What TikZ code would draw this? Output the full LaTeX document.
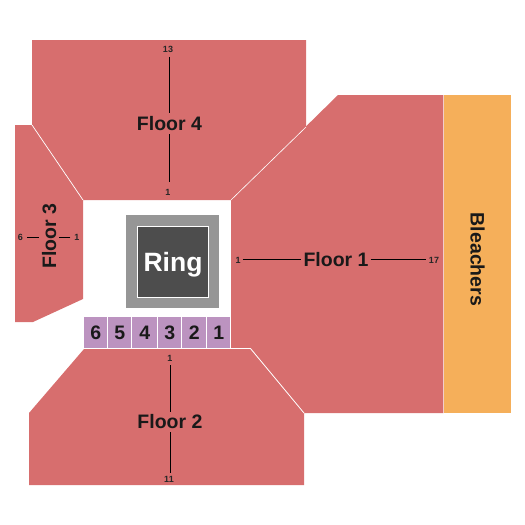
\documentclass[tikz,border=0pt]{standalone}
\usepackage{fontspec}
\setmainfont{Liberation Sans}
\definecolor{floorred}{HTML}{D76E6E}
\definecolor{bleach}{HTML}{F5AF5A}
\definecolor{boxpurple}{HTML}{BC93C0}
\definecolor{ringgray}{HTML}{969696}
\definecolor{ringdark}{HTML}{4D4D4D}
\tikzset{
  floorshape/.style={fill=floorred,draw=white,line width=0.6pt},
  big/.style={font=\fontsize{19.5}{20}\selectfont\bfseries,text=black!90,inner sep=0pt,text height=14pt,text depth=0pt},
  small/.style={font=\fontsize{9}{9}\selectfont\bfseries,text=black!85,inner sep=0pt,text height=6.4pt,text depth=0pt},
  rowline/.style={draw=black,line width=0.75pt},
  seatbox/.style={fill=boxpurple,draw=none,inner sep=0pt,minimum height=31pt,anchor=north west,font=\fontsize{19.5}{20}\selectfont\bfseries,text=black!90,text height=14pt,text depth=0pt},
}
\begin{document}
\begin{tikzpicture}[x=1pt,y=-1pt]
\useasboundingbox (0,0) rectangle (525,525);
% areas
\fill[floorred] (15,125) -- (32,125) -- (83,200) -- (83,299) -- (33,322) -- (15,322) -- cycle;
\fill[floorred] (32,40) -- (306,40) -- (306,127) -- (231,200) -- (83,200) -- (32,125) -- cycle;
\draw[white,line width=0.7pt] (32,125) -- (83,200);
\fill[floorred] (338,95) -- (443.3,95) -- (443.3,413) -- (304,413) -- (250.5,348.5) -- (231,348.5) -- (231,200) -- cycle;
\draw[white,line width=0.6pt] (306,127) -- (231,200);
\fill[floorred] (84,349) -- (250.5,349) -- (304,413) -- (304,485) -- (29,485) -- (29,413) -- cycle;
\draw[white,line width=0.8pt] (84,348.5) -- (250.5,348.5) -- (304,413);
\fill[bleach] (444,95) rectangle (511,413);
% ring
\fill[ringgray] (126,215) rectangle (219,308);
\node[fill=ringdark,draw=white,line width=0.7pt,minimum size=71pt,inner sep=0pt,text=white,font=\fontsize{26.5}{27}\selectfont\bfseries,text height=19pt,text depth=0pt] (ring) at (173,261.5) {Ring};
% seat boxes
\node[seatbox,minimum width=23pt] (s6) at (84,317) {6};
\node[seatbox,minimum width=23pt] (s5) at (108,317) {5};
\node[seatbox,minimum width=25pt] (s4) at (132,317) {4};
\node[seatbox,minimum width=23pt] (s3) at (158,317) {3};
\node[seatbox,minimum width=24pt] (s2) at (182,317) {2};
\node[seatbox,minimum width=23pt] (s1) at (207,317) {1};
% floor 4
\node[big] (f4) at (169.5,123) {Floor 4};
\node[small] (f4a) at (168,49) {13};
\node[small] (f4b) at (168,192.5) {1};
\draw[rowline,shorten >=3pt,shorten <=4.5pt] (f4a.south -| f4) -- (f4.north);
\draw[rowline,shorten >=7pt,shorten <=4pt] (f4.south) -- (f4b.north -| f4);
% floor 2
\node[big] (f2) at (170,421) {Floor 2};
\node[small] (f2a) at (170,358) {1};
\node[small] (f2b) at (169,479) {11};
\draw[rowline,shorten >=2pt,shorten <=4pt] (f2a.south) -- (f2.north);
\draw[rowline,shorten >=3pt,shorten <=4pt] (f2.south) -- (f2b.north -| f2);
% floor 1
\node[big] (f1) at (336,259) {Floor 1};
\node[small] (f1a) at (238,260) {1};
\node[small] (f1b) at (434,260) {17};
\draw[rowline,shorten >=2pt,shorten <=2pt] (f1a.east |- f1) -- (f1.west);
\draw[rowline,shorten >=3pt,shorten <=2pt] (f1.east) -- (f1b.west |- f1);
% floor 3
\node[big,rotate=90] (f3) at (49,236) {Floor 3};
\node[small] (f3a) at (20.5,237) {6};
\node[small] (f3b) at (77,237) {1};
\draw[rowline,shorten >=3pt,shorten <=4pt] (f3a.east) -- (f3a.east -| f3.north);
\draw[rowline,shorten >=3pt,shorten <=4pt] (f3b.west) -- (f3b.west -| f3.south);
% bleachers
\node[big,rotate=-90] (bl) at (477.5,259.5) {Bleachers};
\end{tikzpicture}
\end{document}
